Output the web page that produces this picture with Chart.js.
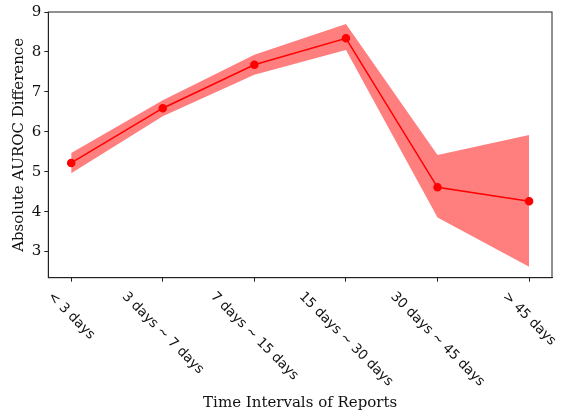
<!DOCTYPE html>
<html>
<head>
<meta charset="utf-8">
<script src="https://cdn.jsdelivr.net/npm/chart.js@4"></script>
<style>
  html, body { margin: 0; padding: 0; background: #fff; }
  #wrap { width: 565px; height: 413px; }
</style>
</head>
<body>
<div id="wrap"><canvas id="chart" width="565" height="413"></canvas></div>
<script>
const categories = ["< 3 days", "3 days ~ 7 days", "7 days ~ 15 days", "15 days ~ 30 days", "30 days ~ 45 days", "> 45 days"]
const meanValues = [5.22, 6.59, 7.68, 8.34, 4.61, 4.26]
const upperValues = [5.47, 6.79, 7.93, 8.70, 5.42, 5.92]
const lowerValues = [4.96, 6.39, 7.43, 8.05, 3.85, 2.62]
const yTicks = [3, 4, 5, 6, 7, 8, 9]

const toPoints = (arr) => arr.map((v, i) => ({ x: i, y: v }))

const serif = "'DejaVu Serif', serif"
const sans = "'DejaVu Sans', sans-serif"
const axisColor = "#222"

const frame = {
  id: "frame",
  afterDraw(chart) {
    const { ctx, chartArea: a, scales: { x } } = chart
    ctx.save()
    ctx.strokeStyle = axisColor
    ctx.lineWidth = 1
    ctx.strokeRect(a.left, a.top, a.right - a.left, a.bottom - a.top)

    // rotated category labels, bbox centred under each tick
    ctx.font = "13.5px " + sans
    ctx.fillStyle = "#111"
    ctx.textAlign = "center"
    ctx.textBaseline = "middle"
    const h = 13.5
    categories.forEach((label, i) => {
      const w = ctx.measureText(label).width
      const half = (w + h) * Math.SQRT1_2 / 2
      ctx.save()
      ctx.translate(x.getPixelForValue(i), a.bottom + 12 + half)
      ctx.rotate(Math.PI / 4)
      ctx.fillText(label, 0, 0)
      ctx.restore()
    })

    ctx.font = "15px " + serif
    ctx.textBaseline = "alphabetic"
    ctx.fillText("Time Intervals of Reports", (a.left + a.right) / 2, 407)
    ctx.restore()
  }
}

new Chart(document.getElementById("chart"), {
  type: "line",
  data: {
    datasets: [
      {
        data: toPoints(meanValues),
        borderColor: "#ff0000",
        backgroundColor: "#ff0000",
        borderWidth: 1.5,
        pointRadius: 3.5,
        pointHoverRadius: 3.5,
        fill: false
      },
      {
        data: toPoints(upperValues),
        borderWidth: 0,
        pointRadius: 0,
        backgroundColor: "rgba(255, 0, 0, 0.5)",
        fill: "+1"
      },
      {
        data: toPoints(lowerValues),
        borderWidth: 0,
        pointRadius: 0,
        fill: false
      }
    ]
  },
  options: {
    responsive: false,
    animation: false,
    layout: { padding: { top: 8.3, right: 13, left: 0, bottom: 0 } },
    plugins: { legend: { display: false }, tooltip: { enabled: false } },
    scales: {
      x: {
        type: "linear",
        min: -0.25,
        max: 5.25,
        afterBuildTicks: (s) => { s.ticks = categories.map((_, i) => ({ value: i })) },
        afterFit: (s) => { s.height = 413 - 277.7 },
        ticks: { display: false },
        grid: { drawOnChartArea: false, drawTicks: true, tickLength: 4, color: axisColor },
        border: { display: true, color: axisColor }
      },
      y: {
        min: 2.345,
        max: 9,
        afterBuildTicks: (s) => { s.ticks = yTicks.map((v) => ({ value: v })) },
        afterFit: (s) => { s.width = 48.3 },
        ticks: { color: "#111", font: { family: serif, size: 15 }, padding: 3 },
        grid: { drawOnChartArea: false, drawTicks: true, tickLength: 4, color: axisColor },
        border: { display: true, color: axisColor },
        title: {
          display: true,
          text: "Absolute AUROC Difference",
          color: "#111",
          font: { family: serif, size: 15 },
          padding: { top: 10, bottom: 0 }
        }
      }
    }
  },
  plugins: [frame]
})
</script>
</body>
</html>
